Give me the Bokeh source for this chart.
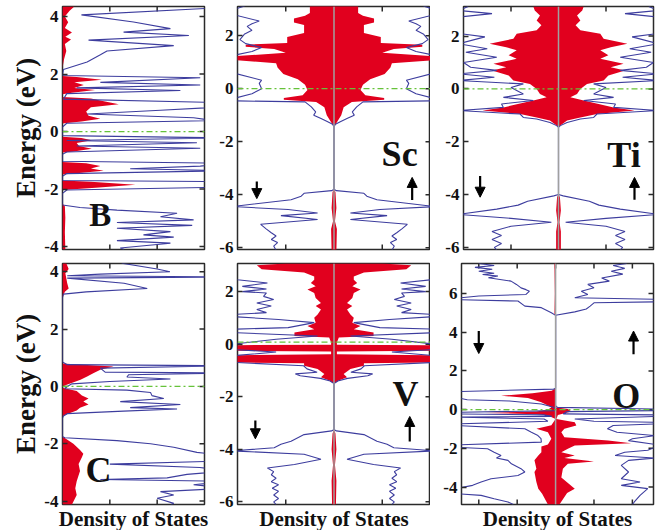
import math
from bokeh.plotting import figure
from bokeh.models import Span, Label, Arrow, NormalHead, FixedTicker, Range1d, Title
from bokeh.layouts import column, row
from bokeh.embed import file_html
from bokeh.resources import INLINE

FONT = "Liberation Serif"
BLUE = "#3d3d9e"
RED = "#e1001e"
GREEN = "#66c23a"
EDGE = "#2a2a2a"

# ---------------- data (energy in eV, DOS in arbitrary units) ----------------
# B panel
B_tot_E = [4.35, 4.32, 4.06, 3.81, 3.58, 3.46, 3.34, 3.18, 2.99, 2.80, 2.67, 2.42, 2.16, 1.95, 1.87, 1.71, 1.62, 1.52, 1.43, 1.32,
           1.13, 1.0, 0.87, 0.74, 0.61, 0.48, 0.38, 0.29, 0.16, -0.14, -0.22, -0.31, -0.39, -0.50, -0.58, -0.71, -0.79, -1.03, -1.10, -1.20,
           -1.29, -1.36, -1.46, -1.55, -1.70, -1.74, -1.84, -1.93, -2.03, -2.15, -2.55, -2.64, -2.73, -2.84, -2.96, -3.07, -3.16, -3.26, -3.36, -3.48,
           -3.59, -3.67, -3.79, -3.88, -4.05, -4.1]
B_tot = [3.5, 3.5, 0.40, 1.50, 2.28, 1.29, 2.67, 0.55, 2.35, 0.94, 0.80, 0.52, 0.02, 0.0, 2.91, 0.80, 2.91, 0.30, 2.49, 0.09,
         0.02, 3.5, 3.5, 2.07, 0.52, 2.77, 3.2, 0.09, 0.0, 0.0, 3.5, 0.09, 2.84, 0.30, 2.91, 0.09, 0.0, 0.0, 3.5, 2.91,
         1.43, 3.5, 0.09, 0.0, 0.0, 3.5, 3.5, 3.5, 0.09, 0.0, 0.0, 0.37, 1.15, 2.42, 2.07, 2.77, 1.15, 2.74, 1.15, 2.28,
         1.71, 2.35, 1.15, 2.28, 1.22, 1.3]
B_red_E = [4.35, 4.2, 4.0, 3.8, 3.6, 3.45, 3.3, 3.2, 3.05, 2.8, 2.5, 2.2, 1.93, 1.90, 1.80, 1.72, 1.62, 1.52, 1.45, 1.35,
           1.30, 1.20, 1.15, 1.05, 0.95, 0.85, 0.70, 0.55, 0.45, 0.35, 0.28, -0.18, -0.22, -0.30, -0.40, -0.50, -0.60, -0.70, -0.73, -1.06,
           -1.10, -1.20, -1.28, -1.36, -1.45, -1.49, -1.70, -1.74, -1.85, -1.95, -2.03, -2.5, -2.6, -3.0, -3.5, -4.1]
B_red = [0.25, 0.15, 0.05, 0.12, 0.05, 0.2, 0.06, 0.18, 0.05, 0.08, 0.03, 0.0, 0.0, 0.3, 0.83, 0.25, 0.45, 0.25, 0.69, 0.2,
         0.0, 0.0, 0.6, 0.9, 1.19, 0.6, 0.5, 0.55, 0.8, 0.4, 0.0, 0.0, 0.4, 0.62, 0.3, 0.35, 0.62, 0.2, 0.0, 0.0,
         0.5, 0.8, 0.6, 0.87, 0.3, 0.0, 0.0, 0.6, 1.54, 0.7, 0.0, 0.0, 0.05, 0.06, 0.05, 0.06]

# C panel
C_tot_E = [4.3, 4.1, 4.0, 3.92, 3.86, 3.82, 3.78, 3.6, 3.42, 3.3, 3.22, 3.1, 0.85, 0.76, 0.72, 0.64, 0.50, 0.47, 0.41, 0.33,
           0.26, 0.17, 0.09, 0.0, -0.08, -0.13, -0.21, -0.32, -0.42, -0.53, -0.63, -0.74, -0.79, -0.86, -0.95, -1.03, -1.1, -1.75, -1.79, -1.89,
           -2.0, -2.12, -2.3, -2.42, -2.6, -2.71, -2.83, -2.95, -3.07, -3.19, -3.25, -3.31, -3.43, -3.55, -3.67, -3.79, -3.9, -4.08, -4.12]
C_tot = [1.25, 2.0, 2.27, 0.8, 0.1, 3.5, 0.1, 1.3, 1.79, 0.5, 0.02, 0.0, 0.0, 0.1, 3.5, 0.8, 0.9, 3.5, 1.4, 1.36,
         2.28, 1.0, 0.2, 0.1, 0.05, 1.36, 1.86, 1.89, 2.14, 1.22, 2.49, 1.43, 2.42, 1.29, 0.1, 0.02, 0.0, 0.0, 0.05, 1.15,
         1.86, 2.35, 2.84, 3.5, 3.5, 1.0, 2.9, 3.5, 2.63, 2.21, 0.8, 3.5, 2.77, 3.5, 2.07, 2.35, 2.0, 2.35, 2.3]
C_red_E = [4.3, 4.1, 3.95, 3.6, 3.42, 3.3, 3.1, 0.80, 0.76, 0.70, 0.58, 0.47, 0.35, 0.23, 0.06, 0.0, -0.05, -0.16, -0.32, -0.42,
           -0.53, -0.63, -0.74, -0.84, -1.0, -1.05, -1.75, -2.0, -2.22, -2.35, -2.47, -2.71, -2.95, -3.31, -3.55, -3.79, -4.12]
C_red = [0.08, 0.13, 0.06, 0.1, 0.13, 0.05, 0.0, 0.0, 0.43, 1.08, 0.8, 0.66, 0.52, 0.38, 0.09, 0.0, 0.0, 0.3, 0.41, 0.55,
         0.44, 0.55, 0.37, 0.3, 0.05, 0.0, 0.0, 0.23, 0.37, 0.44, 0.41, 0.34, 0.37, 0.3, 0.27, 0.3, 0.2]

# Sc panel (spin up = spin down)
Sc_tot_E = [3.12, 3.0, 2.8, 2.55, 2.45, 2.35, 2.2, 2.05, 1.85, 1.7, 1.55, 1.4, 1.25, 0.9, 0.6, 0.32, 0.2, 0.0, -0.19, -0.38,
            -0.46, -0.5, -0.69, -0.88, -1.0, -1.12, -1.25, -1.34, -1.44, -3.8, -3.85, -3.95, -4.06, -4.19, -4.45, -4.56, -4.69, -4.79, -4.94, -5.12,
            -5.3, -5.44, -5.56, -5.69, -5.81, -5.94, -6.1]
Sc_tot = [1.85, 2.05, 2.1, 1.55, 1.7, 1.8, 1.7, 1.86, 1.95, 1.83, 1.5, 1.7, 2.1, 2.1, 2.1, 1.5, 1.55, 1.5, 1.7, 2.1,
          2.1, 0.6, 0.47, 0.38, 0.42, 0.28, 0.13, 0.03, 0.0, 0.0, 0.05, 0.62, 0.68, 0.89, 2.1, 0.95, 0.34, 1.1, 0.34, 1.52,
          1.4, 1.3, 1.2, 1.3, 1.17, 1.25, 1.2]
Sc_red_E = [3.12, 2.85, 2.75, 2.65, 2.5, 2.4, 2.1, 1.95, 1.72, 1.66, 1.58, 1.50, 1.35, 1.22, 1.08, 0.96, 0.8, 0.55, 0.35, 0.15,
            -0.05, -0.25, -0.35, -0.42, -0.5, -0.7, -1.0, -1.3, -1.42, -3.78, -3.9, -4.5, -5.0, -5.3, -6.1]
Sc_red = [0.5, 0.5, 0.6, 0.83, 0.83, 0.62, 0.62, 0.97, 0.97, 1.83, 1.83, 1.24, 1.0, 2.1, 2.1, 1.2, 1.17, 1.05, 0.75, 0.6,
          0.55, 0.65, 1.04, 1.04, 0.37, 0.2, 0.15, 0.05, 0.0, 0.0, 0.03, 0.05, 0.02, 0.06, 0.05]

# Ti panel
Ti_tot_E = [3.12, 2.97, 2.85, 2.72, 2.4, 2.1, 1.97, 1.71, 1.52, 1.39, 1.2, 1.0, 0.82, 0.7, 0.57, 0.44, 0.32, 0.19, 0.05, -0.19,
            -0.32, -0.44, -0.57, -0.70, -0.82, -0.95, -1.08, -1.14, -1.27, -1.39, -1.45, -4.0, -4.05, -4.25, -4.4, -4.55, -4.75, -4.9, -5.05, -5.2,
            -5.4, -5.55, -5.7, -5.85, -6.0, -6.1]
Ti_tot = [1.9, 2.1, 1.4, 2.1, 2.1, 2.1, 1.55, 2.1, 1.5, 1.95, 1.3, 2.0, 1.85, 1.3, 2.1, 1.35, 2.1, 0.74, 1.0, 0.74,
          1.16, 0.53, 1.2, 1.16, 2.1, 0.81, 0.74, 0.46, 0.18, 0.04, 0.0, 0.0, 0.1, 0.65, 0.85, 1.3, 2.1, 1.0, 0.15, 1.0,
          1.4, 1.2, 1.4, 1.2, 1.35, 1.3]
Ti_red_E = [3.12, 2.97, 2.78, 2.59, 2.41, 2.22, 2.09, 1.90, 1.71, 1.58, 1.46, 1.27, 1.14, 0.95, 0.82, 0.70, 0.51, 0.32, 0.19, 0.0,
            -0.19, -0.32, -0.44, -0.70, -0.82, -0.95, -1.08, -1.2, -1.39, -1.46, -3.98, -4.1, -4.6, -5.05, -5.4, -6.1]
Ti_red = [0.53, 0.5, 0.39, 0.46, 0.36, 0.46, 0.88, 0.95, 1.45, 1.1, 0.88, 1.05, 0.88, 1.37, 1.1, 1.4, 1.05, 0.95, 0.6, 0.46,
          0.39, 0.25, 0.53, 1.16, 1.6, 0.81, 0.46, 0.18, 0.04, 0.0, 0.0, 0.03, 0.05, 0.02, 0.05, 0.05]

# V panel
V_tot_E = [3.1, 2.5, 2.45, 2.33, 2.2, 2.1, 2.0, 1.95, 1.82, 1.7, 1.57, 1.45, 1.32, 1.2, 1.13, 1.05, 0.94, 0.82, 0.63, 0.57,
           0.44, 0.31, 0.19, 0.0, -0.2, -0.3, -0.44, -0.69, -0.82, -0.94, -1.07, -1.13, -1.2, -1.3, -1.4, -1.5, -3.25, -3.3, -3.44, -3.69,
           -3.81, -3.94, -4.06, -4.19, -4.38, -4.58, -4.71, -4.85, -4.97, -5.1, -5.23, -5.35, -5.48, -5.6, -5.74, -5.87, -6.0, -6.1]
V_tot = [2.2, 2.2, 2.0, 1.38, 1.9, 1.4, 1.9, 1.4, 1.46, 1.25, 1.6, 1.3, 1.6, 1.4, 2.1, 2.1, 1.15, 0.41, 0.95, 2.1,
         2.1, 0.34, 1.2, 2.1, 2.1, 1.2, 2.1, 2.1, 0.63, 0.56, 0.35, 0.8, 0.7, 0.28, 0.08, 0.0, 0.0, 0.05, 0.62, 0.89,
         1.1, 1.24, 2.1, 0.62, 0.27, 0.82, 1.38, 1.25, 1.3, 1.2, 1.3, 1.15, 1.28, 1.15, 1.25, 1.15, 1.25, 1.2]
V_red_E = [3.07, 3.0, 2.85, 2.73, 2.58, 2.45, 2.33, 2.2, 2.08, 1.95, 1.76, 1.57, 1.45, 1.32, 1.13, 1.01, 0.82, 0.69, 0.57, 0.44,
           0.31, 0.25, 0.06, -0.02, -0.04, -0.25, -0.28, -0.38, -0.42, -0.69, -0.73, -0.82, -0.94, -1.13, -1.26, -1.38, -1.51, -3.25, -3.4, -4.0,
           -4.6, -5.2, -6.1]
V_red = [1.0, 1.6, 1.5, 0.62, 0.41, 0.41, 0.48, 0.38, 0.55, 0.41, 0.38, 0.27, 0.38, 0.27, 0.34, 0.41, 0.38, 0.55, 0.41, 0.82,
         0.82, 0.1, 0.06, 0.06, 2.1, 2.1, 0.06, 0.06, 2.1, 2.1, 0.62, 0.62, 0.34, 0.2, 0.27, 0.1, 0.0, 0.0, 0.03, 0.05,
         0.02, 0.05, 0.04]

# O panel (spin down drawn to the left, spin up to the right)
O_dn_E = [7.55, 7.45, 7.35, 7.25, 7.15, 7.05, 6.98, 6.9, 6.81, 6.64, 6.47, 6.29, 6.2, 6.12, 5.95, 5.87, 5.75, 5.68, 5.61, 5.35,
          5.27, 5.01, 4.87, 1.1, 1.06, 0.93, 0.63, 0.51, 0.45, 0.29, 0.12, 0.03, -0.05, -0.14, -0.22, -0.27, -0.35, -0.39, -0.48, -0.6,
          -0.74, -0.82, -0.99, -1.17, -1.34, -1.5, -1.68, -1.82, -1.94, -2.02, -2.2, -2.37, -2.5, -2.62, -2.8, -3.05, -3.22, -3.4, -3.57, -3.74,
          -3.91, -4.08, -4.34, -4.43, -4.6, -4.77, -4.9]
O_dn = [2.0, 1.6, 2.1, 1.65, 2.0, 1.6, 1.9, 1.5, 1.75, 1.16, 1.02, 0.9, 0.77, 0.68, 0.77, 2.0, 2.6, 2.6, 0.98, 0.8,
        0.37, 0.11, 0.0, 0.0, 0.05, 2.6, 2.6, 2.3, 1.2, 0.37, 0.05, 0.0, 0.0, 2.6, 2.6, 0.3, 0.1, 2.6, 0.3, 0.2,
        2.6, 2.6, 0.8, 0.63, 0.46, 0.38, 0.37, 2.6, 2.6, 1.77, 1.6, 1.42, 1.54, 1.24, 1.15, 0.9, 0.8, 0.98, 1.68, 1.94,
        2.16, 2.6, 2.6, 1.94, 1.6, 1.24, 1.1]
O_up_E = [7.55, 7.45, 7.3, 7.15, 7.0, 6.8, 6.64, 6.47, 6.3, 6.12, 5.95, 5.78, 5.7, 5.57, 5.52, 5.35, 5.2, 5.05, 4.88, 0.2,
          0.12, 0.03, -0.05, -0.1, -0.22, -0.27, -0.35, -0.48, -0.6, -0.65, -0.74, -0.82, -0.99, -1.17, -1.34, -1.5, -1.6, -1.8, -1.94, -2.1,
          -2.2, -2.37, -2.5, -2.62, -2.88, -3.22, -3.57, -3.74, -3.91, -4.08, -4.43, -4.77, -4.9]
O_up = [1.85, 1.5, 1.8, 1.45, 1.75, 1.2, 1.4, 0.84, 1.0, 0.67, 0.84, 0.5, 2.6, 2.6, 1.0, 0.9, 0.8, 0.5, 0.0, 0.0,
        0.05, 2.6, 2.6, 0.3, 0.2, 2.6, 2.6, 0.5, 1.0, 2.6, 2.6, 1.5, 1.35, 1.6, 2.6, 2.0, 1.9, 2.6, 2.6, 2.4,
        1.8, 1.55, 2.6, 1.9, 1.71, 1.9, 1.71, 2.2, 1.71, 2.4, 2.2, 2.05, 2.0]
O_rdn_E = [7.55, 6.0, 4.9, 4.85, 1.1, 0.98, 0.85, 0.72, 0.6, 0.38, 0.12, 0.0, -0.1, -0.17, -0.24, -0.3, -0.48, -0.8, -0.99, -1.17,
           -1.5, -1.8, -1.9, -2.2, -2.37, -2.62, -3.05, -3.22, -3.74, -4.08, -4.34, -4.9]
O_rdn = [0.03, 0.02, 0.03, 0.0, 0.0, 0.1, 0.6, 1.42, 0.72, 0.37, 0.11, 0.2, 0.5, 1.85, 0.5, 0.2, 0.0, 0.11, 0.5, 0.2,
         0.11, 0.2, 0.37, 0.37, 0.45, 0.55, 0.5, 0.55, 0.5, 0.45, 0.35, 0.2]
O_rup_E = [0.12, 0.03, -0.1, -0.27, -0.48, -0.65, -0.82, -0.99, -1.17, -1.42, -1.6, -1.73, -1.85, -2.02, -2.2, -2.37, -2.5, -2.68, -2.8, -3.05,
           -3.5, -4.08, -4.3, -4.9]
O_rup = [0.0, 0.32, 0.41, 0.06, 0.02, 0.5, 0.54, 0.23, 0.15, 0.23, 1.37, 1.97, 0.5, 0.32, 0.15, 0.5, 0.23, 1.0, 0.32, 0.19,
         0.15, 0.5, 0.3, 0.1]

# ticks
E_ticks_BC = [-4, -2, 0, 2, 4]
E_labels_BC = ["-4", "-2", "0", "2", "4"]
E_ticks_TM = [-6, -4, -2, 0, 2]
E_labels_TM = ["-6", "-4", "-2", "0", "2"]
E_ticks_O = [-4, -2, 0, 2, 4, 6]
E_labels_O = ["-4", "-2", "0", "2", "4", "6"]
D_ticks_BC = [1, 2]
D_ticks_TM = [-1, 0, 1]
D_ticks_O = [-2, -1, 0, 1, 2]


def neg(a):
    return [-v for v in a]


def panel(xr, yr, xt, yt, ylabels, left, fw, fh, top, bottom, right, ylab=None, xlab=None):
    p = figure(x_range=Range1d(*xr), y_range=Range1d(*yr), frame_width=fw, frame_height=fh,
               output_backend="svg", toolbar_location=None,
               min_border_left=left, min_border_right=right, min_border_top=top, min_border_bottom=bottom)
    p.grid.visible = False
    p.outline_line_color = EDGE
    p.outline_line_width = 1.5
    p.xaxis.visible = False
    ax = p.yaxis[0]
    ax.ticker = FixedTicker(ticks=yt)
    ax.major_label_overrides = {t: l for t, l in zip(yt, ylabels)}
    ax.major_tick_in = 5
    ax.major_tick_out = 0
    ax.minor_tick_line_color = None
    ax.axis_line_color = None
    ax.major_tick_line_color = EDGE
    ax.major_tick_line_width = 1.5
    ax.major_label_text_font = FONT
    ax.major_label_text_font_style = "bold"
    ax.major_label_text_font_size = "17px"
    ax.major_label_text_color = "#111111"
    ax.major_label_standoff = 4
    if ylab:
        ax.axis_label = ylab
        ax.axis_label_text_font = FONT
        ax.axis_label_text_font_style = "bold"
        ax.axis_label_text_font_size = "27px"
        ax.axis_label_text_color = "#111111"
        ax.axis_label_standoff = 0
    # mirrored inward ticks on top, bottom and right edges (dash markers clipped by the frame)
    for yedge in (yr[0], yr[1]):
        p.scatter(x=xt, y=[yedge] * len(xt), marker="dash", size=10, angle=math.pi / 2,
                  line_color=EDGE, line_width=1.5)
    p.scatter(x=[xr[1]] * len(yt), y=yt, marker="dash", size=10, line_color=EDGE, line_width=1.5)
    if xlab:
        p.add_layout(Title(text=xlab, align="center", text_font=FONT, text_font_style="bold",
                           text_font_size="21px", text_color="#111111", standoff=0), "below")
    return p


def fermi(p, loc=0.0):
    p.add_layout(Span(location=loc, dimension="width", line_color=GREEN, line_width=1.3, line_dash="6 3 2 3"))


def center(p):
    p.add_layout(Span(location=0, dimension="height", line_color="#a0a0a0", line_width=1.5))


def tag(p, x, y, text, size="36px"):
    p.add_layout(Label(x=x, y=y, text=text, text_font=FONT, text_font_style="bold", text_font_size=size,
                       text_color="#111111", text_align="center", text_baseline="middle"))


def arrow(p, x, y0, y1):
    p.add_layout(Arrow(end=NormalHead(size=10, fill_color="black", line_color="black"),
                       x_start=x, y_start=y0, x_end=x, y_end=y1, line_width=2.2, line_color="black"))


def single(p, tE, t, rE, r):
    p.harea(y=rE, x1=[0.0] * len(r), x2=r, fill_color=RED)
    p.line(x=t, y=tE, line_color=BLUE, line_width=1.1)


def mirrored(p, tE, t, rE, r):
    p.harea(y=rE, x1=neg(r), x2=r, fill_color=RED)
    p.line(x=t, y=tE, line_color=BLUE, line_width=1.1)
    p.line(x=neg(t), y=tE, line_color=BLUE, line_width=1.1)


FH1 = 243
FH2 = 241

# ---- top row ----
pB = panel((0, 3), (-4.1, 4.35), D_ticks_BC, E_ticks_BC, E_labels_BC, 62, 142, FH1, 6, 8, 5, ylab="Energy (eV)")
single(pB, B_tot_E, B_tot, B_red_E, B_red)
fermi(pB)
tag(pB, 0.8, -2.9, "B", "33px")

pSc = panel((-2, 2), (-6.07, 3.1), D_ticks_TM, E_ticks_TM, E_labels_TM, 28, 193, FH1, 6, 8, 0)
mirrored(pSc, Sc_tot_E, Sc_tot, Sc_red_E, Sc_red)
center(pSc)
fermi(pSc)
tag(pSc, 1.36, -2.46, "Sc")
arrow(pSc, -1.6, -3.5, -4.15)
arrow(pSc, 1.62, -4.2, -3.35)

pTi = panel((-2, 2), (-6.08, 3.12), D_ticks_TM, E_ticks_TM, E_labels_TM, 33, 190, FH1, 6, 8, 6)
mirrored(pTi, Ti_tot_E, Ti_tot, Ti_red_E, Ti_red)
center(pTi)
fermi(pTi)
tag(pTi, 1.38, -2.49, "Ti")
arrow(pTi, -1.65, -3.3, -4.1)
arrow(pTi, 1.6, -4.2, -3.35)

# ---- bottom row ----
pC = panel((0, 3), (-4.12, 4.29), D_ticks_BC, E_ticks_BC, E_labels_BC, 62, 142, FH2, 6, 0, 5,
           ylab="Energy (eV)", xlab="Density of States")
single(pC, C_tot_E, C_tot, C_red_E, C_red)
fermi(pC)
tag(pC, 0.76, -2.9, "C")

pV = panel((-2, 2), (-6.1, 3.07), D_ticks_TM, E_ticks_TM, E_labels_TM, 28, 193, FH2, 6, 0, 0, xlab="Density of States")
mirrored(pV, V_tot_E, V_tot, V_red_E, V_red)
center(pV)
fermi(pV, 0.08)
tag(pV, 1.48, -1.89, "V")
arrow(pV, -1.63, -2.9, -3.6)
arrow(pV, 1.57, -3.7, -2.75)

pO = panel((-2.45, 2.55), (-4.9, 7.55), D_ticks_O, E_ticks_O, E_labels_O, 31, 192, FH2, 6, 0, 6, xlab="Density of States")
pO.harea(y=O_rdn_E, x1=neg(O_rdn), x2=[0.0] * len(O_rdn), fill_color=RED)
pO.harea(y=O_rup_E, x1=[0.0] * len(O_rup), x2=O_rup, fill_color=RED)
pO.line(x=neg(O_dn), y=O_dn_E, line_color=BLUE, line_width=1.1)
pO.line(x=O_up, y=O_up_E, line_color=BLUE, line_width=1.1)
center(pO)
fermi(pO)
tag(pO, 1.84, 0.72, "O")
arrow(pO, -2.0, 4.06, 2.9)
arrow(pO, 2.03, 2.86, 4.06)

layout = column(row(pB, pSc, pTi), row(pC, pV, pO))
open("out.html", "w").write(file_html(layout, INLINE))
